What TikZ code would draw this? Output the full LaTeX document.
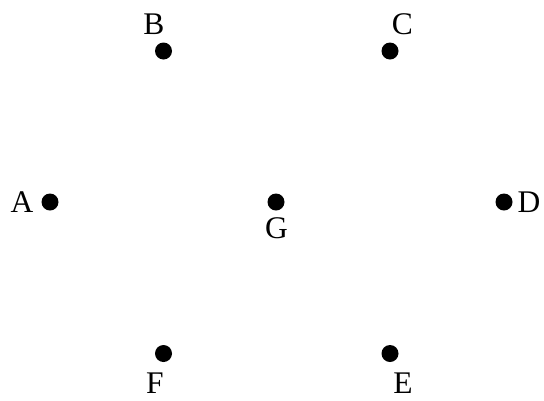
\documentclass[tikz,border=0pt]{standalone}
\usepackage{fontspec}
\setmainfont{Liberation Serif}

\begin{document}
\begin{tikzpicture}[x=1pt,y=-1pt,
  dot/.style={circle,fill=black,inner sep=0pt,minimum size=17pt},
  lbl/.style={anchor=base,inner sep=0pt,font=\fontsize{31.5}{36}\selectfont}]

% page frame
\useasboundingbox (0,0) rectangle (544,400);

% points
\node[dot] (A) at (50,202) {};
\node[dot] (B) at (163.5,51) {};
\node[dot] (C) at (390,51) {};
\node[dot] (D) at (504,202) {};
\node[dot] (E) at (390,353.5) {};
\node[dot] (F) at (163.5,353.5) {};
\node[dot] (G) at (276,202) {};

% labels
\node[lbl] (Alab) at (22,212) {A};
\node[lbl] (Blab) at (154,34.5) {B};
\node[lbl] (Clab) at (402.5,34.5) {C};
\node[lbl] (Dlab) at (529,212) {D};
\node[lbl] (Elab) at (403,393) {E};
\node[lbl] (Flab) at (155,393) {F};
\node[lbl] (Glab) at (276.5,238) {G};

\end{tikzpicture}
\end{document}
